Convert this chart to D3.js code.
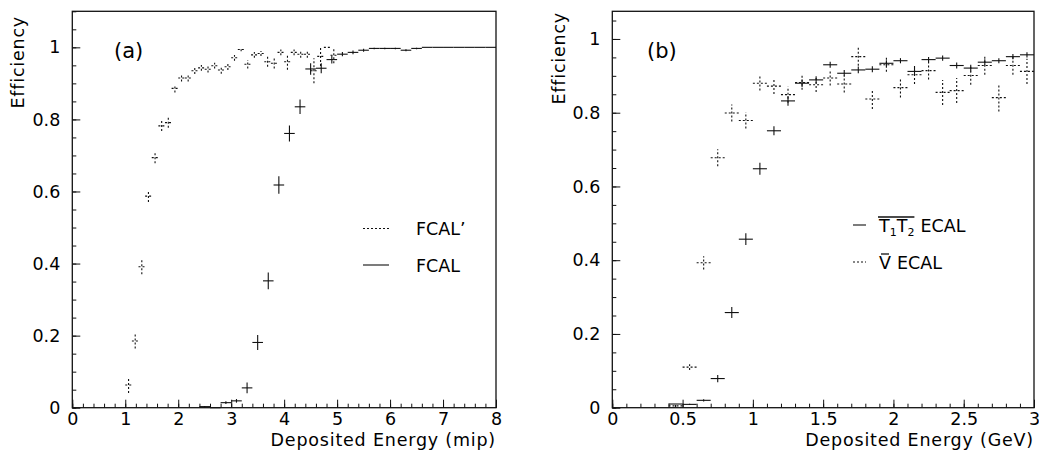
<!DOCTYPE html>
<html>
<head>
<meta charset="utf-8">
<script src="https://cdn.jsdelivr.net/npm/d3@7"></script>
<style>
    body { margin: 0; background: #fff; }
    text { font-family: "DejaVu Sans", sans-serif; fill: #000; }
</style>
</head>
<body>
<div class="efficiency-panels"></div>
<script>
// panel (a): FCAL' (dotted) and FCAL (solid), deposited energy in mip
var fcalPrimeX = [1.0625, 1.1875, 1.3125, 1.4375, 1.5625, 1.6875, 1.8125, 1.9375, 2.0625, 2.1875, 2.3125,
    2.4375, 2.5625, 2.6875, 2.8125, 2.9375, 3.0625, 3.1875, 3.3125, 3.4375, 3.5625, 3.6875, 3.8125, 3.9375,
    4.0625, 4.1875, 4.3125, 4.4375, 4.5625, 4.6875, 4.8125, 4.9375];
var fcalPrimeY = [0.063, 0.185, 0.391, 0.587, 0.694, 0.782, 0.791, 0.886, 0.915, 0.915, 0.935,
    0.943, 0.939, 0.949, 0.937, 0.946, 0.971, 0.994, 0.953, 0.979, 0.983, 0.960, 0.956, 0.986,
    0.960, 0.986, 0.981, 0.981, 0.935, 0.975, 1.0, 0.978];
var fcalPrimeErr = [0.022, 0.021, 0.021, 0.016, 0.016, 0.014, 0.014, 0.011, 0.010, 0.010, 0.009,
    0.008, 0.009, 0.008, 0.010, 0.009, 0.008, 0.005, 0.012, 0.008, 0.007, 0.014, 0.015, 0.008,
    0.022, 0.008, 0.010, 0.010, 0.035, 0.027, 0, 0.022];

var fcalX = [2.5, 2.7, 2.9, 3.1, 3.3, 3.5, 3.7, 3.9, 4.1, 4.3, 4.5, 4.7, 4.9, 5.1, 5.3, 5.5, 5.7, 5.9,
    6.1, 6.3, 6.5, 6.7, 6.9, 7.1, 7.3, 7.5, 7.7, 7.9];
var fcalY = [0.003, 0.0, 0.014, 0.019, 0.055, 0.181, 0.352, 0.618, 0.761, 0.835, 0.940, 0.942, 0.966,
    0.981, 0.986, 0.992, 0.997, 0.997, 0.997, 0.992, 0.997, 1.0, 1.0, 1.0, 1.0, 1.0, 1.0, 1.0];
var fcalErr = [0.002, 0, 0.004, 0.005, 0.015, 0.021, 0.023, 0.024, 0.022, 0.020, 0.016, 0.014, 0.011,
    0.006, 0.005, 0.004, 0.002, 0.002, 0.002, 0.003, 0.002, 0, 0, 0, 0, 0, 0, 0];

// panel (b): T1T2 ECAL (solid) and V ECAL (dotted), deposited energy in GeV
var ecalX = [0.45, 0.55, 0.65, 0.75, 0.85, 0.95, 1.05, 1.15, 1.25, 1.35, 1.45, 1.55, 1.65, 1.75, 1.85,
    1.95, 2.05, 2.15, 2.25, 2.35, 2.45, 2.55, 2.65, 2.75, 2.85, 2.95];
var t1t2Y = [0.010, 0.009, 0.020, 0.079, 0.258, 0.457, 0.648, 0.751, 0.832, 0.880, 0.889, 0.930, 0.907,
    0.916, 0.918, 0.934, 0.941, 0.912, 0.944, 0.948, 0.928, 0.921, 0.937, 0.941, 0.952, 0.957];
var t1t2Err = [0, 0.002, 0.003, 0.010, 0.015, 0.016, 0.016, 0.012, 0.013, 0.010, 0.010, 0.008, 0.009,
    0.009, 0.008, 0.008, 0.007, 0.010, 0.007, 0.007, 0.008, 0.009, 0.008, 0.007, 0.007, 0.007];
var vbarY = [0.005, 0.110, 0.393, 0.678, 0.799, 0.779, 0.880, 0.872, 0.849, 0.882, 0.876, 0.894, 0.878,
    0.952, 0.837, 0.930, 0.868, 0.903, 0.914, 0.855, 0.860, 0.901, 0.928, 0.841, 0.928, 0.912];
var vbarErr = [0.003, 0.008, 0.018, 0.023, 0.023, 0.022, 0.020, 0.021, 0.022, 0.020, 0.020, 0.020, 0.023,
    0.025, 0.027, 0.019, 0.027, 0.025, 0.024, 0.034, 0.034, 0.025, 0.025, 0.038, 0.025, 0.034];

var leftXTicks = [0, 1, 2, 3, 4, 5, 6, 7, 8];
var rightXTicks = [0, 0.5, 1, 1.5, 2, 2.5, 3];
var yTicks = [0, 0.2, 0.4, 0.6, 0.8, 1];

(function() {
    var width = 1039, height = 451;
    var svg = d3.select(".efficiency-panels").append("svg")
        .attr("width", width)
        .attr("height", height);

    svg.append("rect").attr("width", width).attr("height", height).attr("fill", "#fff");

    var fmt = function(d) { return String(+d.toFixed(1)); };

    function drawPanel(cfg) {
        var x = d3.scaleLinear().domain(cfg.xDomain).range([cfg.left, cfg.right]);
        var y = d3.scaleLinear().domain(cfg.yDomain).range([cfg.bottom, cfg.top]);
        var g = svg.append("g").classed("panel", true);

        // minor ticks
        g.append("g")
            .attr("transform", "translate(0," + cfg.bottom + ")")
            .call(d3.axisBottom(x).tickValues(cfg.xMinor).tickSize(-4).tickFormat(""))
            .call(function(a) { a.select(".domain").remove(); });
        g.append("g")
            .attr("transform", "translate(" + cfg.left + ",0)")
            .call(d3.axisLeft(y).tickValues(cfg.yMinor).tickSize(-4).tickFormat(""))
            .call(function(a) { a.select(".domain").remove(); });

        // major ticks with labels
        g.append("g")
            .classed("x-axis", true)
            .attr("transform", "translate(0," + cfg.bottom + ")")
            .call(d3.axisBottom(x).tickValues(cfg.xTicks).tickSize(-8).tickPadding(5).tickFormat(fmt))
            .call(function(a) { a.select(".domain").remove(); });
        g.append("g")
            .classed("y-axis", true)
            .attr("transform", "translate(" + cfg.left + ",0)")
            .call(d3.axisLeft(y).tickValues(yTicks).tickSize(-8).tickPadding(12).tickFormat(fmt))
            .call(function(a) { a.select(".domain").remove(); });

        g.selectAll(".tick line").attr("stroke", "#111").attr("stroke-width", 1);
        g.selectAll(".tick text")
            .attr("font-family", "DejaVu Sans")
            .attr("font-size", 17.5)
            .style("fill", "#000");

        g.append("rect")
            .attr("x", cfg.left)
            .attr("y", cfg.top)
            .attr("width", cfg.right - cfg.left)
            .attr("height", cfg.bottom - cfg.top)
            .attr("fill", "none")
            .attr("stroke", "#111")
            .attr("stroke-width", 1.3);

        g.append("text")
            .attr("x", cfg.right)
            .attr("y", 446)
            .attr("text-anchor", "end")
            .attr("font-size", 17.5)
            .attr("letter-spacing", 0.8)
            .text(cfg.xTitle);

        g.append("text")
            .attr("transform", "translate(" + cfg.yTitleX + "," + cfg.yTitleY + ") rotate(-90)")
            .attr("text-anchor", "end")
            .attr("font-size", 17.5)
            .attr("letter-spacing", 0.8)
            .text("Efficiency");

        g.append("text")
            .attr("x", cfg.tagX)
            .attr("y", 58)
            .attr("font-size", 21)
            .text(cfg.tag);

        return {g: g, x: x, y: y};
    }

    function drawCrosses(p, xs, ys, errs, hw, dashed) {
        var pts = xs.map(function(d, i) { return {x: d, y: ys[i], e: errs[i]}; });
        var crosses = p.g.append("g")
            .attr("stroke", "#111")
            .attr("stroke-width", 1.1)
            .attr("stroke-dasharray", dashed ? "2,2" : null)
            .selectAll("g")
            .data(pts)
            .enter()
            .append("g");

        crosses.append("line")
            .attr("x1", function(d) { return p.x(d.x - hw); })
            .attr("x2", function(d) { return p.x(d.x + hw); })
            .attr("y1", function(d) { return p.y(d.y); })
            .attr("y2", function(d) { return p.y(d.y); });

        crosses.filter(function(d) { return d.e > 0; })
            .append("line")
            .attr("x1", function(d) { return p.x(d.x); })
            .attr("x2", function(d) { return p.x(d.x); })
            .attr("y1", function(d) { return p.y(d.y - d.e); })
            .attr("y2", function(d) { return p.y(d.y + d.e); });
    }

    function legendLine(g, x1, x2, yy, dashed) {
        g.append("line")
            .attr("x1", x1).attr("x2", x2)
            .attr("y1", yy).attr("y2", yy)
            .attr("stroke", "#111")
            .attr("stroke-width", 1.1)
            .attr("stroke-dasharray", dashed ? "2,2" : null);
    }

    function overline(g, textSel, pad) {
        var bb = textSel.node().getBBox();
        g.append("line")
            .attr("x1", bb.x + pad).attr("x2", bb.x + bb.width - pad)
            .attr("y1", bb.y + 1).attr("y2", bb.y + 1)
            .attr("stroke", "#111")
            .attr("stroke-width", 1.3);
    }

    // panel (a)
    var a = drawPanel({
        xDomain: [0, 8], yDomain: [0, 1.1],
        left: 72.3, right: 496, top: 11.3, bottom: 407.7,
        xTicks: leftXTicks,
        xMinor: d3.range(0, 8.01, 0.2),
        yMinor: d3.range(0, 1.101, 0.05),
        xTitle: "Deposited Energy (mip)",
        yTitleX: 24, yTitleY: 16,
        tag: "(a)", tagX: 114
    });
    drawCrosses(a, fcalPrimeX, fcalPrimeY, fcalPrimeErr, 0.0625, true);
    drawCrosses(a, fcalX, fcalY, fcalErr, 0.1, false);

    legendLine(a.g, 363, 389, 228.5, true);
    a.g.append("text").attr("x", 416).attr("y", 235).attr("font-size", 17.5).text("FCAL\u2019");
    legendLine(a.g, 363, 389, 265, false);
    a.g.append("text").attr("x", 416).attr("y", 272).attr("font-size", 17.5).text("FCAL");

    // panel (b)
    var b = drawPanel({
        xDomain: [0, 3], yDomain: [0, 1.075],
        left: 612.3, right: 1034, top: 11.3, bottom: 407.7,
        xTicks: rightXTicks,
        xMinor: d3.range(0, 3.001, 0.1),
        yMinor: d3.range(0, 1.051, 0.05),
        xTitle: "Deposited Energy (GeV)",
        yTitleX: 565, yTitleY: 12,
        tag: "(b)", tagX: 647
    });
    drawCrosses(b, ecalX, vbarY, vbarErr, 0.05, true);
    drawCrosses(b, ecalX, t1t2Y, t1t2Err, 0.05, false);

    legendLine(b.g, 853, 866, 225, false);
    var tt = b.g.append("text").attr("x", 879).attr("y", 232).attr("font-size", 17.5);
    tt.append("tspan").text("T");
    tt.append("tspan").attr("font-size", 11).attr("dy", 4).text("1");
    tt.append("tspan").attr("dy", -4).text("T");
    tt.append("tspan").attr("font-size", 11).attr("dy", 4).text("2");
    overline(b.g, tt, 0);
    var ttBox = tt.node().getBBox();
    b.g.append("text").attr("x", ttBox.x + ttBox.width + 6).attr("y", 232).attr("font-size", 17.5).text("ECAL");

    legendLine(b.g, 853, 866, 262, true);
    var vv = b.g.append("text").attr("x", 879).attr("y", 269).attr("font-size", 17.5).text("V");
    overline(b.g, vv, 2);
    var vvBox = vv.node().getBBox();
    b.g.append("text").attr("x", vvBox.x + vvBox.width + 6).attr("y", 269).attr("font-size", 17.5).text("ECAL");
})();
</script>
</body>
</html>
